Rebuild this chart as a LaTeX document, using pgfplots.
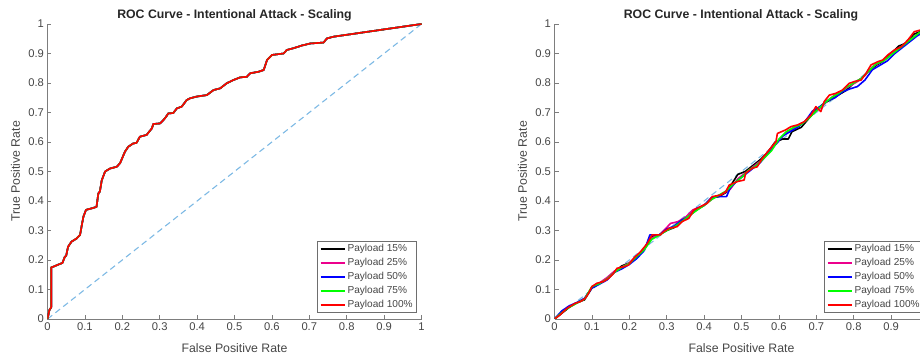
\documentclass[border=0pt]{standalone}
\usepackage{fontspec}
\setmainfont{Liberation Sans}
\usepackage{pgfplots}
\usepackage{pgfplotstable}
\pgfplotsset{compat=1.18}
\definecolor{axline}{RGB}{125,125,125}
\definecolor{axtext}{RGB}{70,70,70}
\definecolor{diagc}{RGB}{125,185,228}
\definecolor{legbox}{RGB}{110,110,110}

\pgfplotstableread{
x y
0 0
0.005 0.03
0.01 0.04
0.01 0.175
0.017 0.178
0.03 0.185
0.04 0.19
0.046 0.21
0.05 0.215
0.055 0.245
0.064 0.262
0.078 0.273
0.087 0.285
0.091 0.313
0.096 0.347
0.103 0.37
0.118 0.375
0.131 0.38
0.136 0.426
0.14 0.432
0.145 0.47
0.154 0.5
0.167 0.51
0.185 0.516
0.194 0.528
0.207 0.567
0.216 0.584
0.229 0.595
0.238 0.597
0.247 0.618
0.265 0.624
0.279 0.646
0.283 0.661
0.301 0.663
0.314 0.68
0.323 0.697
0.336 0.698
0.346 0.714
0.359 0.72
0.372 0.742
0.381 0.748
0.399 0.754
0.426 0.759
0.444 0.776
0.462 0.782
0.479 0.799
0.497 0.81
0.515 0.819
0.533 0.821
0.542 0.833
0.564 0.838
0.578 0.844
0.587 0.878
0.6 0.895
0.631 0.9
0.64 0.912
0.658 0.918
0.68 0.927
0.703 0.934
0.738 0.937
0.747 0.951
0.765 0.957
1 1
}\leftdata

\pgfplotstableread{
x y
0 0
0.015 0.014
0.033 0.036
0.055 0.053
0.069 0.059
0.082 0.07
0.091 0.087
0.1 0.11
0.113 0.121
0.131 0.127
0.145 0.138
0.158 0.155
0.167 0.172
0.185 0.177
0.198 0.183
0.212 0.206
0.23 0.228
0.248 0.256
0.261 0.285
0.283 0.285
0.292 0.296
0.306 0.307
0.328 0.313
0.341 0.33
0.359 0.341
0.373 0.37
0.391 0.381
0.408 0.392
0.422 0.415
0.444 0.42
0.458 0.432
0.467 0.454
0.489 0.466
0.507 0.471
0.511 0.494
0.529 0.511
0.542 0.516
0.556 0.545
0.574 0.573
0.592 0.601
0.596 0.629
0.618 0.641
0.632 0.652
0.65 0.658
0.668 0.669
0.686 0.692
0.699 0.72
0.712 0.703
0.721 0.737
0.735 0.759
0.752 0.765
0.77 0.776
0.788 0.799
0.802 0.805
0.82 0.81
0.833 0.833
0.846 0.861
0.864 0.872
0.878 0.878
0.891 0.895
0.909 0.912
0.927 0.923
0.945 0.946
0.962 0.974
0.98 0.98
1 1
}\rred

\pgfplotstableread{
x y
0 0
0.02 0.02
0.04 0.04
0.06 0.055
0.08 0.065
0.1 0.105
0.12 0.12
0.14 0.135
0.16 0.16
0.18 0.18
0.2 0.19
0.22 0.21
0.24 0.24
0.26 0.28
0.28 0.285
0.3 0.3
0.32 0.31
0.34 0.33
0.36 0.35
0.38 0.37
0.4 0.385
0.42 0.41
0.44 0.415
0.46 0.43
0.48 0.47
0.49 0.49
0.51 0.5
0.53 0.52
0.55 0.54
0.57 0.565
0.59 0.6
0.61 0.61
0.625 0.61
0.635 0.635
0.66 0.65
0.68 0.68
0.7 0.71
0.72 0.73
0.74 0.745
0.76 0.76
0.78 0.775
0.8 0.8
0.82 0.815
0.84 0.84
0.86 0.86
0.88 0.875
0.9 0.9
0.92 0.925
0.94 0.935
0.96 0.965
0.98 0.975
1 1
}\rblack

\pgfplotstableread{
x y
0 0
0.02 0.025
0.04 0.042
0.06 0.055
0.08 0.068
0.1 0.108
0.12 0.122
0.14 0.14
0.16 0.162
0.18 0.176
0.2 0.19
0.22 0.215
0.24 0.235
0.26 0.275
0.28 0.285
0.3 0.31
0.31 0.324
0.33 0.33
0.35 0.345
0.37 0.37
0.39 0.38
0.41 0.395
0.43 0.415
0.45 0.425
0.47 0.44
0.49 0.475
0.51 0.495
0.53 0.515
0.55 0.535
0.57 0.56
0.59 0.59
0.61 0.62
0.63 0.64
0.65 0.655
0.67 0.67
0.69 0.695
0.71 0.715
0.73 0.74
0.75 0.76
0.77 0.775
0.79 0.79
0.81 0.805
0.83 0.825
0.85 0.855
0.87 0.87
0.89 0.885
0.91 0.91
0.93 0.925
0.95 0.945
0.97 0.965
0.99 0.98
1 1
}\rmag

\pgfplotstableread{
x y
0 0
0.02 0.028
0.04 0.045
0.06 0.056
0.08 0.07
0.1 0.105
0.12 0.118
0.14 0.132
0.16 0.158
0.18 0.17
0.2 0.185
0.22 0.205
0.24 0.232
0.255 0.285
0.28 0.285
0.3 0.305
0.32 0.315
0.34 0.335
0.36 0.348
0.38 0.375
0.4 0.385
0.42 0.412
0.44 0.415
0.46 0.415
0.47 0.445
0.49 0.47
0.51 0.49
0.53 0.51
0.55 0.53
0.57 0.56
0.59 0.59
0.61 0.62
0.63 0.635
0.65 0.65
0.67 0.67
0.69 0.705
0.71 0.72
0.73 0.74
0.75 0.75
0.77 0.77
0.79 0.78
0.81 0.788
0.83 0.81
0.85 0.845
0.87 0.86
0.89 0.875
0.91 0.9
0.93 0.92
0.95 0.94
0.97 0.96
0.99 0.975
1 1
}\rblue

\pgfplotstableread{
x y
0 0
0.02 0.022
0.04 0.04
0.06 0.054
0.08 0.067
0.1 0.11
0.12 0.12
0.14 0.135
0.16 0.158
0.18 0.175
0.2 0.188
0.22 0.212
0.24 0.235
0.26 0.27
0.28 0.284
0.3 0.3
0.32 0.312
0.34 0.33
0.36 0.35
0.38 0.368
0.4 0.385
0.42 0.405
0.44 0.42
0.46 0.435
0.48 0.46
0.5 0.48
0.52 0.505
0.54 0.52
0.56 0.545
0.58 0.57
0.6 0.61
0.62 0.635
0.64 0.65
0.66 0.66
0.68 0.68
0.7 0.705
0.72 0.73
0.74 0.75
0.76 0.765
0.78 0.785
0.8 0.8
0.82 0.815
0.84 0.84
0.86 0.865
0.88 0.875
0.9 0.895
0.92 0.915
0.94 0.935
0.96 0.955
0.98 0.975
1 1
}\rgreen

\pgfplotsset{
  rocax/.style={
    scale only axis, width=374pt, height=295pt,
    xmin=0, xmax=1, ymin=0, ymax=1,
    axis lines*=left,
    axis line style={draw=axline, line width=0.6pt, -},
    tick align=inside,
    major tick length=4pt,
    tick style={draw=axline, line width=0.6pt},
    xtick={0,0.1,0.2,0.3,0.4,0.5,0.6,0.7,0.8,0.9,1},
    ytick={0,0.1,0.2,0.3,0.4,0.5,0.6,0.7,0.8,0.9,1},
    xticklabels={0,0.1,0.2,0.3,0.4,0.5,0.6,0.7,0.8,0.9,1},
    yticklabels={0,0.1,0.2,0.3,0.4,0.5,0.6,0.7,0.8,0.9,1},
    ticklabel style={font=\fontsize{11.2}{13}\selectfont, text=axtext},
    xlabel={False Positive Rate}, ylabel={True Positive Rate},
    label style={font=\fontsize{12.3}{14}\selectfont, text=axtext},
    xlabel style={at={(axis description cs:0.5,-0.0983)}, anchor=center},
    ylabel style={at={(axis description cs:-0.0856,0.5)}, anchor=center},
    legend style={font=\fontsize{10.1}{12}\selectfont, draw=legbox, line width=0.6pt, fill=white,
      at={(axis description cs:0.988,0.02)}, anchor=south east,
      inner xsep=2pt, inner ysep=0.5pt, row sep=0pt,
      nodes={inner sep=2pt, text height=7.6pt, text depth=2.4pt, text=axtext}},
    legend cell align=left,
    legend image code/.code={\draw[#1, line width=1.8pt] (0pt,0pt) -- (24pt,0pt);},
    every axis plot/.append style={line width=1.6pt, line join=round},
  }
}

\begin{document}
\begin{tikzpicture}[x=1pt,y=1pt]
\useasboundingbox (0,0) rectangle (920,358);
\clip (0,0) rectangle (920,358);
\begin{axis}[rocax, at={(47.5pt,39pt)}, anchor=south west]
\addplot[diagc, dashed, line width=1.1pt, dash pattern=on 6pt off 4pt, forget plot] coordinates {(0,0) (1,1)};
\addplot[black] table[x=x,y=y] {\leftdata};
\addplot[magenta] table[x=x,y=y] {\leftdata};
\addplot[blue] table[x=x,y=y] {\leftdata};
\addplot[green] table[x=x,y=y] {\leftdata};
\addplot[red] table[x=x,y=y] {\leftdata};
\legend{Payload 15\%, Payload 25\%, Payload 50\%, Payload 75\%, Payload 100\%}
\end{axis}
\begin{axis}[rocax, at={(554.5pt,39pt)}, anchor=south west]
\addplot[diagc, dashed, line width=1.1pt, dash pattern=on 6pt off 4pt, forget plot] coordinates {(0,0) (1,1)};
\addplot[black] table[x=x,y=y] {\rblack};
\addplot[magenta] table[x=x,y=y] {\rmag};
\addplot[blue] table[x=x,y=y] {\rblue};
\addplot[green] table[x=x,y=y] {\rgreen};
\addplot[red] table[x=x,y=y] {\rred};
\legend{Payload 15\%, Payload 25\%, Payload 50\%, Payload 75\%, Payload 100\%}
\end{axis}
\node[font=\fontsize{12.3}{14}\selectfont\bfseries, text=black!85, anchor=center] at (234.5,343) {ROC Curve - Intentional Attack - Scaling};
\node[font=\fontsize{12.3}{14}\selectfont\bfseries, text=black!85, anchor=center] at (741,343) {ROC Curve - Intentional Attack - Scaling};
\end{tikzpicture}
\end{document}
